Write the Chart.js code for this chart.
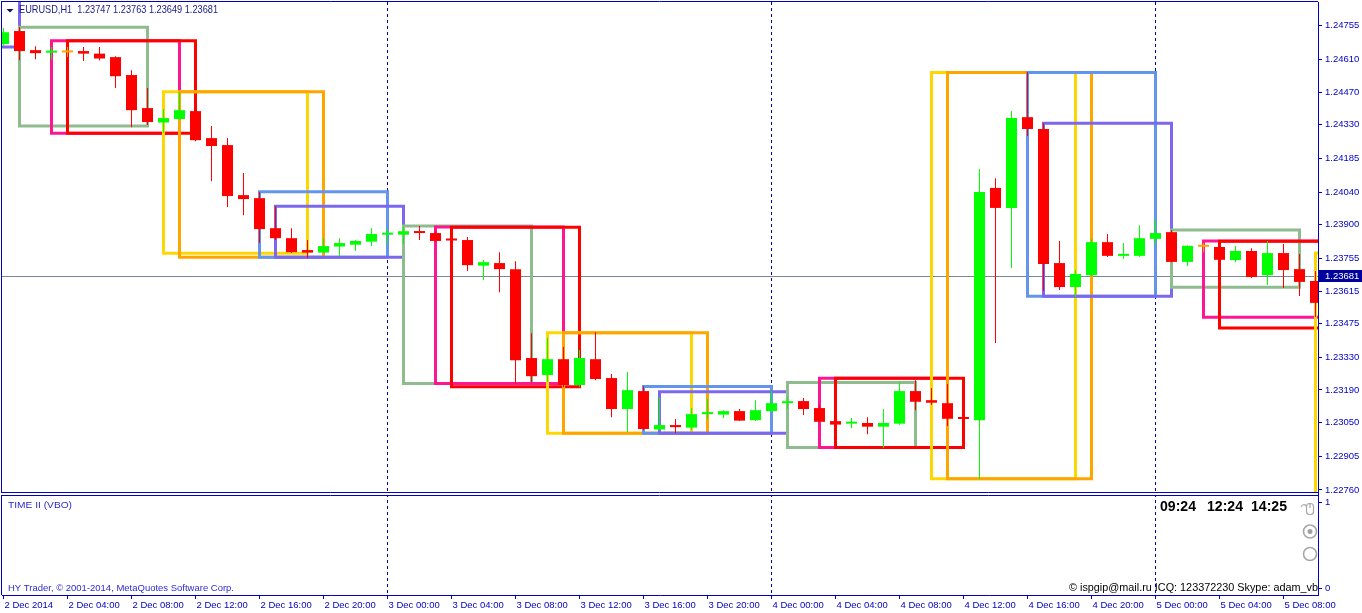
<!DOCTYPE html>
<html>
<head>
<meta charset="utf-8">
<title>EURUSD,H1</title>
<script src="https://cdn.jsdelivr.net/npm/chart.js@4.4.1/dist/chart.umd.min.js"></script>
<style>
  html, body { margin: 0; padding: 0; background: #fff; }
  #wrap { width: 1362px; height: 613px; }
</style>
</head>
<body>
<div id="wrap"><canvas id="mt4Chart" width="1362" height="613"></canvas></div>
<script>
// H1 bars, index 0 = 2 Dec 2014 00:00
const opens = [1.24676, 1.24732, 1.24650, 1.24639, 1.24640, 1.24646, 1.24635, 1.24620, 1.24543, 1.24401,
  1.24339, 1.24354, 1.24388, 1.24272, 1.24242, 1.24027, 1.24014, 1.23885, 1.23842, 1.23791,
  1.23780, 1.23806, 1.23814, 1.23827, 1.23857, 1.23857, 1.23872, 1.23864, 1.23838, 1.23834,
  1.23724, 1.23735, 1.23709, 1.23327, 1.23254, 1.23322, 1.23211, 1.23322, 1.23241, 1.23108,
  1.23185, 1.23020, 1.23039, 1.23028, 1.23086, 1.23084, 1.23099, 1.23060, 1.23099, 1.23133,
  1.23142, 1.23112, 1.23056, 1.23045, 1.23048, 1.23032, 1.23045, 1.23185, 1.23146, 1.23133,
  1.23073, 1.23060, 1.24058, 1.23972, 1.24362, 1.24311, 1.23735, 1.23632, 1.23683, 1.23825,
  1.23766, 1.23766, 1.23839, 1.23868, 1.23740, 1.23805, 1.23804, 1.23748, 1.23787, 1.23683,
  1.23778, 1.23709, 1.23658];
const highs = [1.24745, 1.24749, 1.24667, 1.24663, 1.24663, 1.24663, 1.24663, 1.24624, 1.24564, 1.24487,
  1.24397, 1.24470, 1.24397, 1.24324, 1.24272, 1.24122, 1.24040, 1.23980, 1.23885, 1.23834,
  1.23842, 1.23842, 1.23834, 1.23885, 1.23885, 1.23890, 1.23894, 1.23872, 1.23842, 1.23847,
  1.23748, 1.23782, 1.23743, 1.23434, 1.23413, 1.23374, 1.23361, 1.23439, 1.23258, 1.23267,
  1.23206, 1.23159, 1.23065, 1.23112, 1.23151, 1.23103, 1.23108, 1.23146, 1.23185, 1.23159,
  1.23155, 1.23125, 1.23060, 1.23069, 1.23073, 1.23108, 1.23224, 1.23232, 1.23198, 1.23215,
  1.23077, 1.24139, 1.24100, 1.24388, 1.24556, 1.24337, 1.23830, 1.23705, 1.23838, 1.23860,
  1.23821, 1.23898, 1.23920, 1.23877, 1.23812, 1.23821, 1.23808, 1.23808, 1.23799, 1.23830,
  1.23817, 1.23774, 1.23701];
const lows = [1.24667, 1.24607, 1.24611, 1.24611, 1.24620, 1.24603, 1.24607, 1.24487, 1.24319, 1.24328,
  1.24294, 1.24349, 1.24259, 1.24087, 1.23976, 1.23941, 1.23821, 1.23834, 1.23778, 1.23756,
  1.23778, 1.23765, 1.23787, 1.23808, 1.23821, 1.23817, 1.23834, 1.23825, 1.23830, 1.23701,
  1.23662, 1.23610, 1.23219, 1.23224, 1.23224, 1.23202, 1.23202, 1.23232, 1.23073, 1.23009,
  1.23017, 1.23017, 1.23005, 1.23017, 1.23065, 1.23069, 1.23056, 1.23056, 1.23095, 1.23108,
  1.23082, 1.23052, 1.23039, 1.23026, 1.23000, 1.22940, 1.23039, 1.23103, 1.23125, 1.23035,
  1.23060, 1.22807, 1.23392, 1.23714, 1.24281, 1.23615, 1.23619, 1.23589, 1.23679, 1.23761,
  1.23752, 1.23761, 1.23817, 1.23739, 1.23722, 1.23782, 1.23748, 1.23739, 1.23671, 1.23641,
  1.23628, 1.23594, 1.23503];
const closes = [1.24727, 1.24646, 1.24637, 1.24642, 1.24640, 1.24635, 1.24614, 1.24538, 1.24392, 1.24341,
  1.24358, 1.24392, 1.24263, 1.24238, 1.24023, 1.24010, 1.23881, 1.23842, 1.23782, 1.23780,
  1.23808, 1.23821, 1.23830, 1.23860, 1.23864, 1.23872, 1.23864, 1.23830, 1.23832, 1.23726,
  1.23739, 1.23709, 1.23318, 1.23249, 1.23322, 1.23211, 1.23327, 1.23237, 1.23108, 1.23189,
  1.23022, 1.23039, 1.23030, 1.23086, 1.23090, 1.23099, 1.23058, 1.23103, 1.23133, 1.23138,
  1.23108, 1.23053, 1.23041, 1.23048, 1.23032, 1.23048, 1.23185, 1.23139, 1.23135, 1.23066,
  1.23065, 1.24040, 1.23972, 1.24358, 1.24311, 1.23731, 1.23632, 1.23688, 1.23825, 1.23766,
  1.23769, 1.23842, 1.23864, 1.23740, 1.23809, 1.23805, 1.23749, 1.23787, 1.23675, 1.23778,
  1.23705, 1.23654, 1.23564];

// session boxes (bar index from/to, high/low of the range)
const boxKind = ['violet', 'green', 'pink', 'red', 'gold', 'orange', 'blue', 'violet',
  'green', 'pink', 'red', 'gold', 'orange', 'blue', 'violet',
  'green', 'pink', 'red', 'gold', 'orange', 'blue', 'violet',
  'green', 'pink', 'red', 'gold'];
const boxStart = [-7, 1, 3, 4, 10, 11, 16, 17, 25, 27, 28, 34, 35, 40, 41, 49, 51, 52, 58, 59, 64, 65, 73, 75, 76, 82];
const boxEnd = [1, 9, 11, 12, 19, 20, 24, 25, 33, 35, 36, 43, 44, 48, 49, 57, 59, 60, 67, 68, 72, 73, 81, 83, 84, 91];
const boxHigh = [1.24900, 1.24748, 1.24690, 1.24690, 1.24471, 1.24471, 1.24042, 1.23979,
  1.23894, 1.23890, 1.23889, 1.23436, 1.23436, 1.23205, 1.23182,
  1.23222, 1.23240, 1.23240, 1.24554, 1.24554, 1.24554, 1.24336,
  1.23877, 1.23830, 1.23829, 1.23778];
const boxLow = [1.24663, 1.24324, 1.24293, 1.24293, 1.23777, 1.23760, 1.23760, 1.23760,
  1.23218, 1.23218, 1.23204, 1.23004, 1.23004, 1.23004, 1.23004,
  1.22943, 1.22943, 1.22943, 1.22808, 1.22808, 1.23593, 1.23593,
  1.23631, 1.23502, 1.23456, 1.22743];

const priceTicks = [1.24755, 1.24610, 1.24470, 1.24330, 1.24185, 1.24040, 1.23900, 1.23755,
  1.23615, 1.23475, 1.23330, 1.23190, 1.23050, 1.22905, 1.22760];
const indTicks = [0, 1];
const timeLabels = ['2 Dec 2014', '2 Dec 04:00', '2 Dec 08:00', '2 Dec 12:00', '2 Dec 16:00', '2 Dec 20:00',
  '3 Dec 00:00', '3 Dec 04:00', '3 Dec 08:00', '3 Dec 12:00', '3 Dec 16:00', '3 Dec 20:00',
  '4 Dec 00:00', '4 Dec 04:00', '4 Dec 08:00', '4 Dec 12:00', '4 Dec 16:00', '4 Dec 20:00',
  '5 Dec 00:00', '5 Dec 04:00', '5 Dec 08:00'];
const bidPrice = 1.23681;
const headerText = 'EURUSD,H1  1.23747 1.23763 1.23649 1.23681';
const sessionTimes = ['09:24', '12:24', '14:25'];

const AXIS_BLUE = '#0000c8';
const UP = '#00ff00';
const DOWN = '#ff0000';
const DOJI = '#ffa500';
const boxColors = {
  violet: '#7b68ee', green: '#8fbc8f', pink: '#ff1493', red: '#ff0000',
  gold: '#ffd700', orange: '#ffa500', blue: '#6495ed'
};
const axisFont = { family: 'Liberation Sans', size: 9.5 };

function candleColor(i) {
  if (closes[i] > opens[i]) return UP;
  if (closes[i] < opens[i]) return DOWN;
  return DOJI;
}

// draw text squeezed/stretched to a given width
function fitText(ctx, text, x, y, width, font, color, align) {
  ctx.save();
  ctx.font = font;
  ctx.fillStyle = color;
  ctx.textBaseline = 'middle';
  ctx.textAlign = 'left';
  const w = ctx.measureText(text).width;
  ctx.translate(align === 'right' ? x - width : x, y);
  ctx.scale(width / w, 1);
  ctx.fillText(text, 0, 0);
  ctx.restore();
}

const boxDatasets = boxStart.map((s, k) => ({
  type: 'line',
  order: 100 - k,
  data: [
    { x: s, y: boxHigh[k] }, { x: boxEnd[k], y: boxHigh[k] },
    { x: boxEnd[k], y: boxLow[k] }, { x: s, y: boxLow[k] }, { x: s, y: boxHigh[k] }
  ],
  borderColor: boxColors[boxKind[k]],
  borderWidth: 3,
  borderCapStyle: 'square',
  borderJoinStyle: 'miter',
  pointRadius: 0,
  fill: false,
  tension: 0
}));

const wicks = {
  type: 'bar',
  order: 1,
  grouped: false,
  data: opens.map((o, i) => ({ x: i, y: [lows[i], highs[i]] })),
  backgroundColor: opens.map((o, i) => candleColor(i)),
  barThickness: 1,
  maxBarThickness: 1,
  borderWidth: 0,
  inflateAmount: 0
};

const bodies = {
  type: 'bar',
  order: 0,
  grouped: false,
  data: opens.map((o, i) => ({ x: i, y: [o, closes[i]] })),
  backgroundColor: opens.map((o, i) => candleColor(i)),
  barThickness: 11,
  maxBarThickness: 11,
  minBarLength: 2,
  borderWidth: 0,
  inflateAmount: 0
};

const mt4Frame = {
  id: 'mt4Frame',
  beforeDatasetsDraw(chart) {
    const { ctx, chartArea: a, scales } = chart;
    const yb = Math.round(scales.y.getPixelForValue(bidPrice)) + 0.5;
    ctx.save();
    ctx.strokeStyle = '#778899';
    ctx.lineWidth = 1;
    ctx.beginPath();
    ctx.moveTo(a.left, yb);
    ctx.lineTo(a.right, yb);
    ctx.stroke();
    ctx.restore();
  },
  afterDraw(chart) {
    const { ctx, chartArea: a, scales } = chart;
    const split = scales.y.bottom;
    const p = scales.yInd.top;

    // panel frames
    ctx.save();
    ctx.fillStyle = '#fff';
    ctx.fillRect(0, split - 1, a.right, 2);
    ctx.strokeStyle = AXIS_BLUE;
    ctx.lineWidth = 1;
    ctx.beginPath();
    ctx.moveTo(1, 1.5); ctx.lineTo(a.right, 1.5);
    ctx.moveTo(1.5, 1); ctx.lineTo(1.5, split - 1);
    ctx.moveTo(1, split - 1.5); ctx.lineTo(a.right, split - 1.5);
    ctx.moveTo(1, split + 1.5); ctx.lineTo(a.right, split + 1.5);
    ctx.moveTo(1.5, split + 1); ctx.lineTo(1.5, a.bottom);
    ctx.stroke();

    // current price label
    const yp = scales.y.getPixelForValue(bidPrice);
    ctx.fillStyle = '#00009c';
    ctx.fillRect(a.right + 1, Math.round(yp) - 6, 1362 - a.right, 12);
    ctx.fillStyle = '#fff';
    ctx.font = '9.5px "Liberation Sans"';
    ctx.textBaseline = 'middle';
    ctx.fillText(bidPrice.toFixed(5), a.right + 7, Math.round(yp) + 0.5);

    // header
    ctx.fillStyle = '#101050';
    ctx.beginPath();
    ctx.moveTo(6.5, 9); ctx.lineTo(13.5, 9); ctx.lineTo(10, 12.5);
    ctx.closePath();
    ctx.fill();
    fitText(ctx, headerText, 19, 10.5, 199, '10.5px "Liberation Sans"', '#1a1a8a');

    // indicator sub-window
    fitText(ctx, 'TIME II (VBO)', 8, p + 11.5, 64, '9.5px "Liberation Sans"', '#2b2bd4');
    fitText(ctx, 'HY Trader, \u00a9 2001-2014, MetaQuotes Software Corp.', 8, p + 94, 226,
      '9.5px "Liberation Sans"', '#2b2bd4');
    const tx = [1160, 1207, 1251];
    sessionTimes.forEach((t, k) => {
      fitText(ctx, t, tx[k], p + 13, 36, 'bold 15px "Liberation Sans"', '#000');
    });
    fitText(ctx, '\u00a9 ispgip@mail.ru ICQ: 123372230 Skype: adam_vb', a.right, p + 94, 249,
      '11.5px "Liberation Sans"', '#000', 'right');

    // mouse + radio icons
    ctx.strokeStyle = '#a8a8a8';
    ctx.fillStyle = '#a0a0a0';
    ctx.lineWidth = 1.2;
    ctx.beginPath();
    ctx.roundRect(1306.5, p + 9.5, 7, 11, 3);
    ctx.moveTo(1310, p + 9.5); ctx.lineTo(1310, p + 14);
    ctx.moveTo(1306.5, p + 12); ctx.quadraticCurveTo(1303, p + 9, 1301, p + 13);
    ctx.stroke();
    ctx.lineWidth = 1.6;
    ctx.beginPath();
    ctx.arc(1310, p + 37.5, 6.5, 0, Math.PI * 2);
    ctx.stroke();
    ctx.beginPath();
    ctx.arc(1310, p + 37.5, 2.5, 0, Math.PI * 2);
    ctx.fill();
    ctx.beginPath();
    ctx.arc(1310, p + 60, 6.5, 0, Math.PI * 2);
    ctx.stroke();
    ctx.restore();
  }
};

new Chart(document.getElementById('mt4Chart'), {
  type: 'bar',
  data: { datasets: [...boxDatasets, wicks, bodies] },
  options: {
    responsive: false,
    animation: false,
    devicePixelRatio: 1,
    events: [],
    layout: { padding: { left: 2, top: 2, right: 0, bottom: 0 } },
    plugins: {
      legend: { display: false },
      tooltip: { enabled: false },
      title: { display: false }
    },
    scales: {
      x: {
        type: 'linear',
        min: -0.09375,
        max: 82.15625,
        offset: false,
        afterBuildTicks: s => { s.ticks = timeLabels.map((_, k) => ({ value: k * 4 })); },
        afterFit: s => { s.height = 18; s.paddingLeft = 0; s.paddingRight = 0; },
        grid: {
          offset: false,
          drawOnChartArea: true,
          color: c => (c.tick && c.tick.value > 0 && c.tick.value % 24 === 0) ? '#0000b0' : 'rgba(0,0,0,0)',
          lineWidth: 1,
          drawTicks: true,
          tickLength: 4,
          tickColor: AXIS_BLUE,
          tickWidth: 1
        },
        border: { display: true, color: AXIS_BLUE, width: 1, dash: [3, 3] },
        ticks: {
          autoSkip: false,
          maxRotation: 0,
          minRotation: 0,
          align: 'start',
          labelOffset: 1,
          padding: 1,
          color: AXIS_BLUE,
          font: axisFont,
          callback: (v, idx) => timeLabels[idx]
        }
      },
      y: {
        type: 'linear',
        position: 'right',
        stack: 'panes',
        stackWeight: 492,
        min: 1.227428,
        max: 1.248568,
        afterBuildTicks: s => { s.ticks = priceTicks.map(v => ({ value: v })); },
        afterFit: s => { s.width = 44; s.paddingTop = 0; s.paddingBottom = 0; },
        grid: { drawOnChartArea: false, drawTicks: true, tickLength: 4, tickColor: AXIS_BLUE },
        border: { color: AXIS_BLUE, width: 1 },
        ticks: {
          autoSkip: false,
          padding: 3,
          color: AXIS_BLUE,
          font: axisFont,
          callback: v => v.toFixed(5)
        }
      },
      yInd: {
        type: 'linear',
        position: 'right',
        stack: 'panes',
        stackWeight: 101,
        min: -0.081,
        max: 1.093,
        afterBuildTicks: s => { s.ticks = indTicks.map(v => ({ value: v })); },
        afterFit: s => { s.width = 44; s.paddingTop = 0; s.paddingBottom = 0; },
        grid: { drawOnChartArea: false, drawTicks: true, tickLength: 4, tickColor: AXIS_BLUE },
        border: { color: AXIS_BLUE, width: 1 },
        ticks: {
          autoSkip: false,
          padding: 3,
          color: AXIS_BLUE,
          font: axisFont,
          callback: v => String(v)
        }
      }
    }
  },
  plugins: [mt4Frame]
});
</script>
</body>
</html>
